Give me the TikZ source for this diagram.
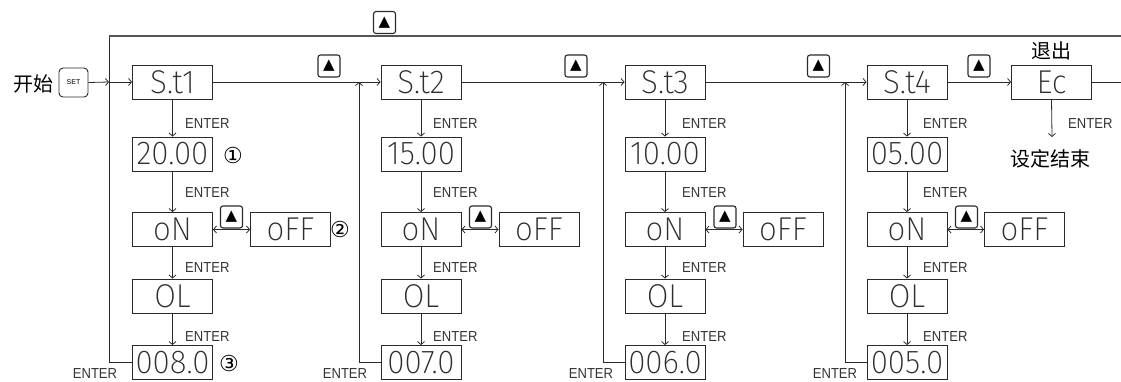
\documentclass[tikz,border=0pt]{standalone}
\usepackage{fontspec}
\usetikzlibrary{arrows.meta}
\setmainfont{Liberation Sans}
\newfontfamily\segfont{Fira Sans ExtraLight}[FakeStretch=0.95]
\newfontfamily\enterfont{Liberation Sans}[FakeStretch=0.9]
\newfontfamily\cjk{Noto Sans CJK SC}
\newfontfamily\dvs{DejaVu Sans}
\definecolor{ln}{HTML}{2A2A2A}
\definecolor{sg}{HTML}{2F2F2F}
\tikzset{
  seg/.style={draw=ln, line width=0.9pt, minimum width=80pt, minimum height=34pt,
    inner sep=0pt, text=sg, font=\segfont\fontsize{33}{33}\selectfont},
  keybox/.style={draw=ln, line width=1.1pt, rounded corners=2.5pt, minimum width=22pt,
    minimum height=22pt, inner sep=0pt, font=\dvs\fontsize{15}{15}\selectfont},
  enter/.style={text=black!80, inner sep=0pt, font=\enterfont\fontsize{14.5}{14.5}\selectfont},
  cn/.style={inner sep=0pt, font=\cjk\fontsize{20}{20}\selectfont},
  circ/.style={inner sep=0pt, font=\dvs\fontsize{22}{22}\selectfont},
  ln/.style={draw=ln, line width=0.8pt},
  arr/.style={ln, -{Straight Barb[length=3pt,width=7pt]}},
  darr/.style={ln, {Straight Barb[length=3pt,width=7pt]}-{Straight Barb[length=3pt,width=7pt]}},
}
\begin{document}
\begin{tikzpicture}[x=1pt,y=-1pt]
\useasboundingbox (0,0) rectangle (1121,381);
% start
\node[cn] (start) at (33,84) {开始};
\node[draw=ln, line width=0.9pt, rounded corners=4pt, minimum width=29pt, minimum height=29pt,
  inner sep=0pt, font=\fontsize{7}{7}\selectfont] (set) at (73.5,82.5) {SET};
\coordinate (j1) at (109,82);
% column 1
\node[seg] (a1) at (172.5,82) {S.t1};
\node[seg] (b1) at (172.5,154) {20.00};
\node[seg] (c1) at (172.5,229.5) {oN};
\node[seg] (f1) at (290.5,229.5) {oFF};
\node[seg] (d1) at (172.5,296) {OL};
\node[seg] (e1) at (172.5,362.5) {008.0};
% column 2
\node[seg] (a2) at (421,82) {S.t2};
\node[seg] (b2) at (421,154) {15.00};
\node[seg] (c2) at (421,229.5) {oN};
\node[seg] (f2) at (539,229.5) {oFF};
\node[seg] (d2) at (421,296) {OL};
\node[seg] (e2) at (421,362.5) {007.0};
% column 3
\node[seg] (a3) at (665,82) {S.t3};
\node[seg] (b3) at (665,154) {10.00};
\node[seg] (c3) at (665,229.5) {oN};
\node[seg] (f3) at (783,229.5) {oFF};
\node[seg] (d3) at (665,296) {OL};
\node[seg] (e3) at (665,362.5) {006.0};
% column 4
\node[seg] (a4) at (907,82) {S.t4};
\node[seg] (b4) at (907,154) {05.00};
\node[seg] (c4) at (907,229.5) {oN};
\node[seg] (f4) at (1024.5,229.5) {oFF};
\node[seg] (d4) at (907,296) {OL};
\node[seg] (e4) at (907,362.5) {005.0};
% exit
\node[seg] (ec) at (1051.5,82) {Ec};
\node[cn] (exitlbl) at (1051,51) {退出};
\node[cn] (endlbl) at (1050,159) {设定结束};
\coordinate (ecd) at (1052,137);
\coordinate (er) at (1121,82);
% return coordinates
\coordinate (tl) at (109,36);
\coordinate (tr) at (1121,36);
\coordinate (r2) at (359,82);
\coordinate (r3) at (603,82);
\coordinate (r4) at (845,82);
% keys
\node[keybox] (ktop) at (384.5,22.5) {▲};
\node[keybox] (k1) at (329,66) {▲};
\node[keybox] (k2) at (576,66) {▲};
\node[keybox] (k3) at (818.5,66) {▲};
\node[keybox] (k4) at (979,66) {▲};
\node[keybox] (m1) at (231.5,217) {▲};
\node[keybox] (m2) at (480.5,217) {▲};
\node[keybox] (m3) at (725,217) {▲};
\node[keybox] (m4) at (966.5,217) {▲};
% circled numbers
\node[circ] (n1) at (233,155) {①};
\node[circ] (n2) at (340,229.5) {②};
\node[circ] (n3) at (229,363) {③};
% main row connectors
\draw[arr] (set.east) -- (j1);
\draw[arr] (j1) -- (a1.west);
\draw[arr] (a1.east) -- (a2.west);
\draw[arr] (a2.east) -- (a3.west);
\draw[arr] (a3.east) -- (a4.west);
\draw[arr] (a4.east) -- (ec.west);
\draw[ln] (ec.east) -- (er);
\draw[arr] (ec.south) -- (ecd);
% top loop
\draw[ln] (e1.west) -| (tl);
\draw[draw=ln!80, line width=1.2pt] (tl) -- (tr);
% returns
\draw[arr] (e2.west) -| (r2);
\draw[arr] (e3.west) -| (r3);
\draw[arr] (e4.west) -| (r4);
% column downs
\foreach \c in {1,2,3,4}{
  \draw[arr] (a\c.south) -- (b\c.north);
  \draw[arr] (b\c.south) -- (c\c.north);
  \draw[arr] (c\c.south) -- (d\c.north);
  \draw[arr] (d\c.south) -- (e\c.north);
  \draw[darr] (c\c.east) -- (f\c.west);
}
% ENTER labels
\foreach \x in {185,433,682,923}{
  \node[enter, anchor=west] at (\x,123.5) {ENTER};
  \node[enter, anchor=west] at (\x,193) {ENTER};
  \node[enter, anchor=west] at (\x,268) {ENTER};
  \node[enter, anchor=west] at (\x,336.5) {ENTER};
}
\node[enter, anchor=west] at (1068,123.5) {ENTER};
\foreach \x in {95,345,591,835}{
  \node[enter] at (\x,374) {ENTER};
}
\end{tikzpicture}
\end{document}
